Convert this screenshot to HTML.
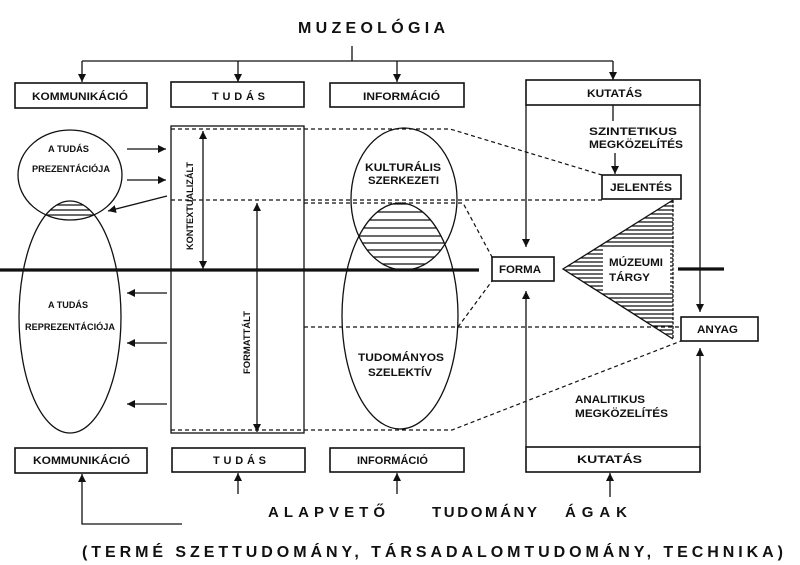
<!DOCTYPE html>
<html><head><meta charset="utf-8"><style>
html,body{margin:0;padding:0;background:#fff;}
svg{display:block;}
text{font-family:"Liberation Sans",Arial,sans-serif;font-weight:bold;fill:#111;}
</style></head><body>
<svg width="800" height="565" viewBox="0 0 800 565" xmlns="http://www.w3.org/2000/svg">
<defs>
<marker id="ah" viewBox="0 0 10 10" refX="10" refY="5" markerWidth="8" markerHeight="8" markerUnits="userSpaceOnUse" orient="auto-start-reverse"><path d="M0,0 L10,5 L0,10 z" fill="#111"/></marker>
<clipPath id="cA"><ellipse cx="404" cy="199" rx="53" ry="71"/></clipPath>
<clipPath id="cB"><ellipse cx="400" cy="316" rx="58" ry="113"/></clipPath>
<clipPath id="cC"><ellipse cx="70" cy="175" rx="52" ry="45"/></clipPath>
<clipPath id="cD"><ellipse cx="70" cy="317" rx="51" ry="116"/></clipPath>
<clipPath id="cT"><polygon points="563,269 673,200 673,339"/></clipPath>
</defs>
<g stroke="#111" fill="none" stroke-width="1.3">
<!-- title connectors -->
<line x1="352" y1="46" x2="352" y2="61"/>
<line x1="82" y1="61" x2="613" y2="61"/>
<line x1="82" y1="61" x2="82" y2="82" marker-end="url(#ah)"/>
<line x1="238" y1="61" x2="238" y2="82" marker-end="url(#ah)"/>
<line x1="397" y1="61" x2="397" y2="82" marker-end="url(#ah)"/>
<line x1="613" y1="61" x2="613" y2="80" marker-end="url(#ah)"/>
<!-- top boxes -->
<rect x="15" y="83" width="132" height="25" stroke-width="1.6"/>
<rect x="171" y="82" width="133" height="25" stroke-width="1.6"/>
<rect x="330" y="83" width="134" height="24" stroke-width="1.6"/>
<rect x="526" y="80" width="174" height="25" stroke-width="1.6"/>
<!-- bottom boxes -->
<rect x="15" y="448" width="132" height="25" stroke-width="1.6"/>
<rect x="172" y="448" width="133" height="24" stroke-width="1.6"/>
<rect x="330" y="448" width="134" height="24" stroke-width="1.6"/>
<rect x="526" y="447" width="174" height="25" stroke-width="1.6"/>
<!-- kutatas sides -->
<line x1="526" y1="105" x2="526" y2="247" marker-end="url(#ah)"/>
<line x1="700" y1="105" x2="700" y2="312" marker-end="url(#ah)"/>
<line x1="526" y1="447" x2="526" y2="291" marker-end="url(#ah)"/>
<line x1="700" y1="447" x2="700" y2="348" marker-end="url(#ah)"/>
<line x1="613" y1="105" x2="613" y2="121"/>
<line x1="615" y1="153" x2="615" y2="174" marker-end="url(#ah)"/>
<!-- small boxes -->
<rect x="602" y="175" width="79" height="24" stroke-width="1.6"/>
<rect x="492" y="257" width="62" height="24" stroke-width="1.6"/>
<rect x="681" y="317" width="77" height="24" stroke-width="1.6"/>
<!-- bottom arrows -->
<polyline points="182,524 82,524 82,474" marker-end="url(#ah)"/>
<line x1="238" y1="494" x2="238" y2="473" marker-end="url(#ah)"/>
<line x1="397" y1="494" x2="397" y2="473" marker-end="url(#ah)"/>
<line x1="610" y1="497" x2="610" y2="473" marker-end="url(#ah)"/>
<!-- central rectangle -->
<rect x="171" y="126" width="133" height="307"/>
<line x1="203" y1="131" x2="203" y2="269" marker-start="url(#ah)" marker-end="url(#ah)"/>
<line x1="257" y1="203" x2="257" y2="432" marker-start="url(#ah)" marker-end="url(#ah)"/>
<!-- left ellipses -->
<ellipse cx="70" cy="175" rx="52" ry="45"/>
<ellipse cx="70" cy="317" rx="51" ry="116"/>
<line x1="127" y1="149" x2="166" y2="149" marker-end="url(#ah)"/>
<line x1="127" y1="180" x2="166" y2="180" marker-end="url(#ah)"/>
<line x1="167" y1="196" x2="108" y2="211" marker-end="url(#ah)"/>
<line x1="167" y1="293" x2="127" y2="293" marker-end="url(#ah)"/>
<line x1="167" y1="343" x2="127" y2="343" marker-end="url(#ah)"/>
<line x1="167" y1="404" x2="127" y2="404" marker-end="url(#ah)"/>
<!-- right ellipses -->
<ellipse cx="404" cy="199" rx="53" ry="71"/>
<ellipse cx="400" cy="316" rx="58" ry="113"/>
<!-- dashed -->
<g stroke-dasharray="4,3" stroke-width="1.2">
<polyline points="171,129 450,129 602,175"/>
<line x1="171" y1="200" x2="602" y2="200"/>
<polyline points="304,203 463,203 492,257"/>
<line x1="304" y1="327" x2="681" y2="327"/>
<line x1="458" y1="327" x2="492" y2="281"/>
<polyline points="171,430 452,430 681,341"/>
</g>
<!-- hatches -->
<g clip-path="url(#cA)"><g clip-path="url(#cB)" stroke-width="1.2">
<line x1="330" y1="204" x2="470" y2="204"/><line x1="330" y1="212" x2="470" y2="212"/>
<line x1="330" y1="220" x2="470" y2="220"/><line x1="330" y1="228" x2="470" y2="228"/>
<line x1="330" y1="236" x2="470" y2="236"/><line x1="330" y1="243" x2="470" y2="243"/>
<line x1="330" y1="250" x2="470" y2="250"/><line x1="330" y1="257" x2="470" y2="257"/>
<line x1="330" y1="264" x2="470" y2="264"/>
</g></g>
<g clip-path="url(#cC)"><g clip-path="url(#cD)" stroke-width="1.2">
<line x1="0" y1="205" x2="140" y2="205"/><line x1="0" y1="210" x2="140" y2="210"/><line x1="0" y1="215" x2="140" y2="215"/>
</g></g>
<g clip-path="url(#cT)" stroke-width="1.2">
<line x1="560" y1="202" x2="680" y2="202"/><line x1="560" y1="206" x2="680" y2="206"/><line x1="560" y1="210" x2="680" y2="210"/><line x1="560" y1="214" x2="680" y2="214"/><line x1="560" y1="218" x2="680" y2="218"/><line x1="560" y1="222" x2="680" y2="222"/><line x1="560" y1="226" x2="680" y2="226"/><line x1="560" y1="230" x2="680" y2="230"/><line x1="560" y1="234" x2="680" y2="234"/><line x1="560" y1="238" x2="680" y2="238"/><line x1="560" y1="242" x2="680" y2="242"/><line x1="560" y1="246" x2="680" y2="246"/><line x1="560" y1="250" x2="680" y2="250"/><line x1="560" y1="254" x2="680" y2="254"/><line x1="560" y1="258" x2="680" y2="258"/><line x1="560" y1="262" x2="680" y2="262"/><line x1="560" y1="266" x2="680" y2="266"/><line x1="560" y1="270" x2="680" y2="270"/><line x1="560" y1="274" x2="680" y2="274"/><line x1="560" y1="278" x2="680" y2="278"/><line x1="560" y1="282" x2="680" y2="282"/><line x1="560" y1="286" x2="680" y2="286"/><line x1="560" y1="290" x2="680" y2="290"/><line x1="560" y1="294" x2="680" y2="294"/><line x1="560" y1="298" x2="680" y2="298"/><line x1="560" y1="302" x2="680" y2="302"/><line x1="560" y1="306" x2="680" y2="306"/><line x1="560" y1="310" x2="680" y2="310"/><line x1="560" y1="314" x2="680" y2="314"/><line x1="560" y1="318" x2="680" y2="318"/><line x1="560" y1="322" x2="680" y2="322"/><line x1="560" y1="326" x2="680" y2="326"/><line x1="560" y1="330" x2="680" y2="330"/><line x1="560" y1="334" x2="680" y2="334"/><line x1="560" y1="338" x2="680" y2="338"/>
</g>
<rect x="603" y="247" width="67" height="46" fill="#fff" stroke="none"/>
<polyline points="673,200 563,269 673,339"/>
<line x1="673" y1="200" x2="673" y2="339" stroke-dasharray="3,1.5"/>
<!-- thick lines -->
<line x1="0" y1="270" x2="479" y2="270" stroke-width="3.2"/>
<line x1="678" y1="269" x2="724" y2="269" stroke-width="3.2"/>
</g>
<!-- texts -->
<text x="298" y="33" font-size="16" textLength="147" lengthAdjust="spacing">MUZEOLÓGIA</text>
<g font-size="11">
<text x="32" y="100" textLength="96" lengthAdjust="spacingAndGlyphs">KOMMUNIKÁCIÓ</text>
<text x="212" y="100" textLength="53" lengthAdjust="spacing">TUDÁS</text>
<text x="363" y="100" textLength="77" lengthAdjust="spacingAndGlyphs">INFORMÁCIÓ</text>
<text x="587" y="97" textLength="55" lengthAdjust="spacingAndGlyphs">KUTATÁS</text>
<text x="33" y="464" textLength="97" lengthAdjust="spacingAndGlyphs">KOMMUNIKÁCIÓ</text>
<text x="213" y="464" textLength="53" lengthAdjust="spacing">TUDÁS</text>
<text x="357" y="464" textLength="71" lengthAdjust="spacingAndGlyphs">INFORMÁCIÓ</text>
<text x="577" y="463" textLength="65" lengthAdjust="spacingAndGlyphs">KUTATÁS</text>
<text x="589" y="135" textLength="88" lengthAdjust="spacingAndGlyphs">SZINTETIKUS</text>
<text x="589" y="148" textLength="94" lengthAdjust="spacingAndGlyphs">MEGKÖZELÍTÉS</text>
<text x="575" y="403" textLength="70" lengthAdjust="spacingAndGlyphs">ANALITIKUS</text>
<text x="575" y="417" textLength="93" lengthAdjust="spacingAndGlyphs">MEGKÖZELÍTÉS</text>
<text x="610" y="191" textLength="62" lengthAdjust="spacingAndGlyphs">JELENTÉS</text>
<text x="499" y="273" textLength="42" lengthAdjust="spacingAndGlyphs">FORMA</text>
<text x="697" y="333" textLength="41" lengthAdjust="spacingAndGlyphs">ANYAG</text>
<text x="609" y="266" textLength="54" lengthAdjust="spacingAndGlyphs">MÚZEUMI</text>
<text x="609" y="281" textLength="41" lengthAdjust="spacingAndGlyphs">TÁRGY</text>
<text x="365" y="171" textLength="76" lengthAdjust="spacingAndGlyphs">KULTURÁLIS</text>
<text x="368" y="184" textLength="71" lengthAdjust="spacingAndGlyphs">SZERKEZETI</text>
<text x="358" y="361" textLength="86" lengthAdjust="spacingAndGlyphs">TUDOMÁNYOS</text>
<text x="368" y="376" textLength="64" lengthAdjust="spacingAndGlyphs">SZELEKTÍV</text>
</g>
<g font-size="9">
<text x="48" y="152" textLength="41" lengthAdjust="spacingAndGlyphs">A TUDÁS</text>
<text x="32" y="172" textLength="78" lengthAdjust="spacingAndGlyphs">PREZENTÁCIÓJA</text>
<text x="48" y="308" textLength="40" lengthAdjust="spacingAndGlyphs">A TUDÁS</text>
<text x="25" y="330" textLength="90" lengthAdjust="spacingAndGlyphs">REPREZENTÁCIÓJA</text>
<text transform="translate(193,250) rotate(-90)" x="0" y="0" textLength="88" lengthAdjust="spacingAndGlyphs" font-weight="normal">KONTEXTUALIZÁLT</text>
<text transform="translate(250,374) rotate(-90)" x="0" y="0" textLength="63" lengthAdjust="spacingAndGlyphs" font-weight="normal">FORMATTÁLT</text>
</g>
<g font-size="15">
<text x="268" y="517" textLength="117" lengthAdjust="spacing">ALAPVETŐ</text>
<text x="432" y="517" textLength="105" lengthAdjust="spacing">TUDOMÁNY</text>
<text x="565" y="517" textLength="62" lengthAdjust="spacing">ÁGAK</text>
</g>
<text x="82" y="557" font-size="16" textLength="701" lengthAdjust="spacing">(TERMÉ SZETTUDOMÁNY, TÁRSADALOMTUDOMÁNY, TECHNIKA)</text>
</svg>
</body></html>
